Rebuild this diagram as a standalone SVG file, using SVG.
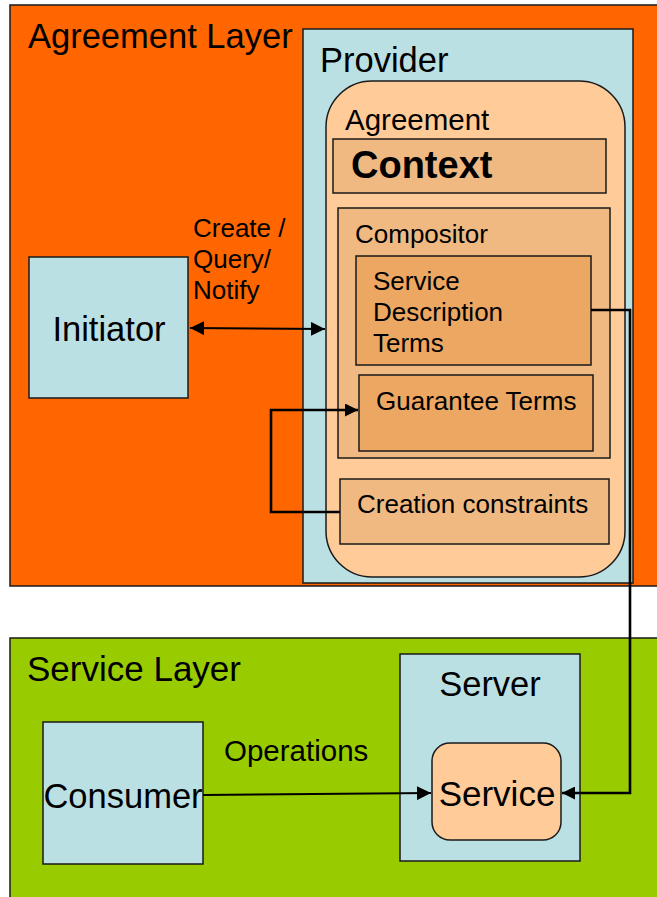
<svg xmlns="http://www.w3.org/2000/svg" width="657" height="897" viewBox="0 0 657 897">
  <style>
    text { font-family: "Liberation Sans", Arial, sans-serif; fill: #000; }
    .box { stroke: #1a1a1a; stroke-width: 1.5; }
    .layerA { fill: #FF6600; }
    .layerS { fill: #99CC00; }
    .blue { fill: #BBE0E3; }
    .peach { fill: #FFCC99; }
    .tan { fill: #EFB981; }
    .deep { fill: #ECA762; }
    .conn { fill: none; stroke: #000; stroke-width: 2; }
    .thick { fill: none; stroke: #000; stroke-width: 2.6; }
  </style>
  <defs>
    <marker id="arrow" viewBox="0 0 10 10" refX="10" refY="5" markerWidth="5" markerHeight="5" orient="auto-start-reverse" markerUnits="strokeWidth">
      <path d="M0,0 L10,5 L0,10 z" fill="#000"/>
    </marker>
    <marker id="arrowThin" viewBox="0 0 10 10" refX="10" refY="5" markerWidth="7" markerHeight="7" orient="auto-start-reverse" markerUnits="strokeWidth">
      <path d="M0,0 L10,5 L0,10 z" fill="#000"/>
    </marker>
  </defs>

  <rect width="657" height="897" fill="#fff"/>

  <!-- Agreement layer -->
  <g id="agreement-layer">
    <rect class="layerA box" x="10" y="5" width="660" height="581"/>
    <text x="28" y="48" font-size="34.5">Agreement Layer</text>
  </g>

  <g id="provider">
    <rect class="blue box" x="303" y="29" width="330" height="554"/>
    <text x="320" y="72" font-size="34.5">Provider</text>
  </g>

  <g id="agreement">
    <rect class="peach box" x="326" y="81" width="299" height="496" rx="46" ry="46"/>
    <text x="345" y="130" font-size="29.5">Agreement</text>
  </g>

  <g id="context">
    <rect class="tan box" x="333" y="139" width="273" height="54"/>
    <text x="351" y="178" font-size="38" font-weight="bold">Context</text>
  </g>

  <g id="compositor">
    <rect class="tan box" x="338" y="208" width="272" height="250"/>
    <text x="355" y="243" font-size="26">Compositor</text>
  </g>

  <g id="service-description-terms">
    <rect class="deep box" x="356" y="256" width="235" height="109"/>
    <text x="373" y="290" font-size="26">Service</text>
    <text x="373" y="321" font-size="26">Description</text>
    <text x="373" y="352" font-size="26">Terms</text>
  </g>

  <g id="guarantee-terms">
    <rect class="deep box" x="359" y="375" width="234" height="76"/>
    <text x="376" y="410" font-size="26">Guarantee Terms</text>
  </g>

  <g id="creation-constraints">
    <rect class="tan box" x="340" y="479" width="269" height="65"/>
    <text x="357" y="513" font-size="26">Creation constraints</text>
  </g>

  <g id="initiator">
    <rect class="blue box" x="29" y="257" width="159" height="141"/>
    <text x="109" y="341" font-size="34.5" text-anchor="middle">Initiator</text>
  </g>

  <!-- Service layer -->
  <g id="service-layer">
    <rect class="layerS box" x="10" y="638" width="660" height="270"/>
    <text x="27" y="681" font-size="35">Service Layer</text>
  </g>

  <g id="consumer">
    <rect class="blue box" x="43" y="722" width="160" height="142"/>
    <text x="123" y="808" font-size="34.5" text-anchor="middle">Consumer</text>
  </g>

  <g id="server">
    <rect class="blue box" x="400" y="654" width="180" height="207"/>
    <text x="490" y="696" font-size="34.5" text-anchor="middle">Server</text>
  </g>

  <g id="service">
    <rect class="peach box" x="432" y="743" width="129" height="97" rx="18" ry="18"/>
    <text x="497" y="806" font-size="35" text-anchor="middle">Service</text>
  </g>

  <!-- Connectors -->
  <g id="connectors">
    <text x="193" y="237" font-size="26">Create /</text>
    <text x="193" y="268" font-size="26">Query/</text>
    <text x="193" y="299" font-size="26">Notify</text>
    <path class="conn" d="M190,328 L325,329" marker-start="url(#arrowThin)" marker-end="url(#arrowThin)" stroke-width="1.6"/>

    <path class="thick" d="M340,512 L271,512 L271,410 L358,410" marker-end="url(#arrow)"/>

    <path class="thick" d="M591,310 L630,310 L630,793 L562,793" marker-end="url(#arrow)"/>

    <text x="224" y="761" font-size="29.5">Operations</text>
    <path class="conn" d="M203,795 L431,793" stroke-width="1.5" marker-end="url(#arrowThin)"/>
  </g>
</svg>
